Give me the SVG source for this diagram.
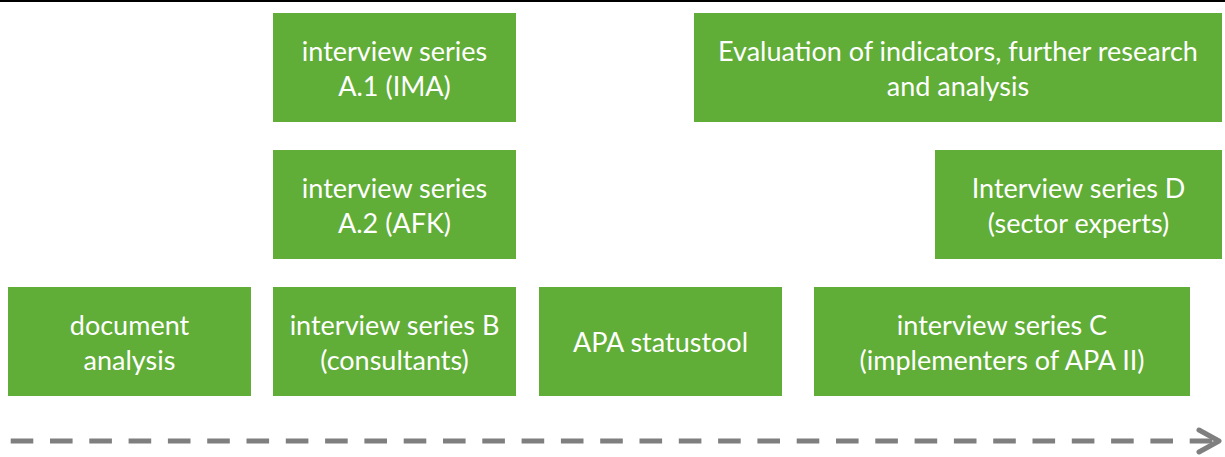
<svg xmlns="http://www.w3.org/2000/svg" width="1225" height="457" viewBox="0 0 1225 457">
  <style>
    .box { fill: #60AD37; }
    .lbl { font-family: Lato, "Liberation Sans", sans-serif; font-size: 27px; fill: #FFFFFF; text-anchor: middle; }
    .timeline { stroke: #7F7F7F; stroke-width: 5; fill: none; }
  </style>
  <rect width="1225" height="457" fill="#FFFFFF"/>
  <rect x="0" y="0" width="1225" height="2" fill="#000000"/>

  <g id="node-a1">
    <rect class="box" x="273" y="13" width="243" height="109"/>
    <text class="lbl" x="394.5" y="60.5">interview series</text>
    <text class="lbl" x="394.5" y="95.5">A.1 (IMA)</text>
  </g>
  <g id="node-evaluation">
    <rect class="box" x="694" y="13" width="528" height="109"/>
    <text class="lbl" x="958" y="60.5">Evaluation of indicators, further research</text>
    <text class="lbl" x="958" y="95.5">and analysis</text>
  </g>
  <g id="node-a2">
    <rect class="box" x="273" y="150" width="243" height="109"/>
    <text class="lbl" x="394.5" y="197.5">interview series</text>
    <text class="lbl" x="394.5" y="232.5">A.2 (AFK)</text>
  </g>
  <g id="node-d">
    <rect class="box" x="935" y="150" width="287" height="109"/>
    <text class="lbl" x="1078.5" y="197.5">Interview series D</text>
    <text class="lbl" x="1078.5" y="232.5">(sector experts)</text>
  </g>
  <g id="node-document">
    <rect class="box" x="8" y="287" width="243" height="109"/>
    <text class="lbl" x="129.5" y="334.5">document</text>
    <text class="lbl" x="129.5" y="369.5">analysis</text>
  </g>
  <g id="node-b">
    <rect class="box" x="273" y="287" width="243" height="109"/>
    <text class="lbl" x="394.5" y="334.5">interview series B</text>
    <text class="lbl" x="394.5" y="369.5">(consultants)</text>
  </g>
  <g id="node-statustool">
    <rect class="box" x="539" y="287" width="243" height="109"/>
    <text class="lbl" x="660.5" y="352">APA statustool</text>
  </g>
  <g id="node-c">
    <rect class="box" x="814" y="287" width="376" height="109"/>
    <text class="lbl" x="1002" y="334.5">interview series C</text>
    <text class="lbl" x="1002" y="369.5">(implementers of APA II)</text>
  </g>

  <g id="connectors">
    <line class="timeline" x1="10.7" y1="441" x2="1217" y2="441" stroke-dasharray="22.6 16.7"/>
    <polyline class="timeline" points="1199,430 1219,441 1199,452" stroke-linejoin="round" stroke-linecap="round"/>
  </g>
</svg>
